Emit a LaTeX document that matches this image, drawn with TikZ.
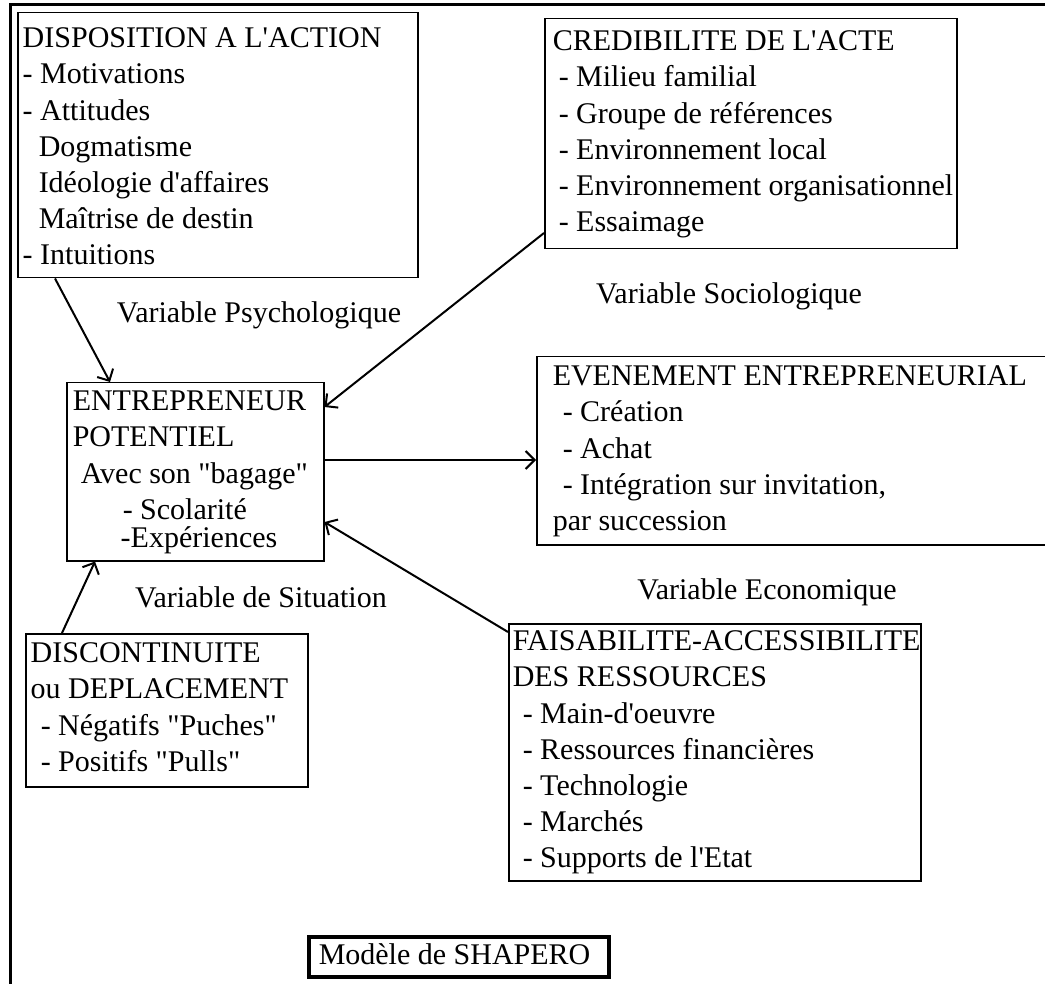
\documentclass[tikz,border=0pt]{standalone}
\usepackage{fontspec}
\setmainfont{Liberation Serif}[Ligatures=TeXOff]
\usetikzlibrary{arrows.meta,calc}
\newcommand\bxt[5]{\parbox[t][#2pt][t]{#1pt}{\fontsize{30}{36.2}\selectfont\leftskip=#3pt\relax\rightskip=0pt minus 20pt\relax\vspace*{#4pt}\strut#5}}
\begin{document}
\begin{tikzpicture}[x=1pt,y=-1pt,
  box/.style={draw, line width=1.5pt, inner sep=0pt, anchor=north west},
  lbl/.style={inner sep=0pt, font=\fontsize{30}{36.2}\selectfont},
  arr/.style={line width=2pt, -{Straight Barb[length=9pt,width=18pt]}}]
\useasboundingbox (0,0) rectangle (1045,984);
\clip (0,0) rectangle (1045,984);
\fill[white] (0,0) rectangle (1045,984);
\draw[line width=3pt] (10,1000) -- (10,5) -- (1060,5);

\node[box] (disp) at (17,12) {\bxt{400}{265}{5}{9.66}{DISPOSITION A L'ACTION\\- Motivations\\- Attitudes\\\hspace*{16pt}Dogmatisme\\\hspace*{16pt}Idéologie d'affaires\\\hspace*{16pt}Maîtrise de destin\\- Intuitions}};

\node[box] (cred) at (544,18) {\bxt{412}{230}{8}{6.66}{CREDIBILITE DE L'ACTE\\\hspace*{6pt}- Milieu familial\\\hspace*{6pt}- Groupe de références\\\hspace*{6pt}- Environnement local\\\hspace*{6pt}- Environnement organisationnel\\\hspace*{6pt}- Essaimage}};

\node[box] (entre) at (66,382) {\bxt{257}{178}{6}{2.66}{ENTREPRENEUR\\POTENTIEL\\\hspace*{8pt}Avec son "bagage"\\\hspace*{50pt}- Scolarité\\[-8pt]\hspace*{48pt}-Expériences}};

\node[box] (even) at (536,356) {\bxt{516}{188}{16}{3.66}{EVENEMENT ENTREPRENEURIAL\\\hspace*{10pt}- Création\\\hspace*{10pt}- Achat\\\hspace*{10pt}- Intégration sur invitation,\\par succession}};

\node[box] (disc) at (25,633) {\bxt{282}{153}{5}{3.66}{DISCONTINUITE\\ou DEPLACEMENT\\\hspace*{10pt}- Négatifs "Puches"\\\hspace*{10pt}- Positifs "Pulls"}};

\node[box] (faisa) at (508,623) {\bxt{412}{257}{4}{1.66}{FAISABILITE-ACCESSIBILITE\\DES RESSOURCES\\\hspace*{10pt}- Main-d'oeuvre\\\hspace*{10pt}- Ressources financières\\\hspace*{10pt}- Technologie\\\hspace*{10pt}- Marchés\\\hspace*{10pt}- Supports de l'Etat}};

\node[box, line width=3.5pt] (shap) at (307,935) {\bxt{300}{40}{10}{2.66}{Modèle de SHAPERO}};

\node[lbl] (lpsy) at (259,315) {Variable Psychologique};
\node[lbl] (lsoc) at (729,296) {Variable Sociologique};
\node[lbl] (lsit) at (261,597) {Variable de Situation};
\node[lbl] (leco) at (767,592) {Variable Economique};

\draw[arr] ($(disp.south west)+(38,0)$) -- ($(entre.north west)+(44,0)$);
\draw[arr] ($(cred.north west)+(0,215)$) -- ($(entre.north east)+(0,25)$);
\draw[arr] ($(entre.north east)+(0,78)$) -- ($(even.north west)+(0,104)$);
\draw[arr] ($(faisa.north west)+(0,9)$) -- ($(entre.north east)+(0,140)$);
\draw[arr] ($(disc.north west)+(37,0)$) -- ($(entre.south west)+(29,0)$);
\end{tikzpicture}
\end{document}
